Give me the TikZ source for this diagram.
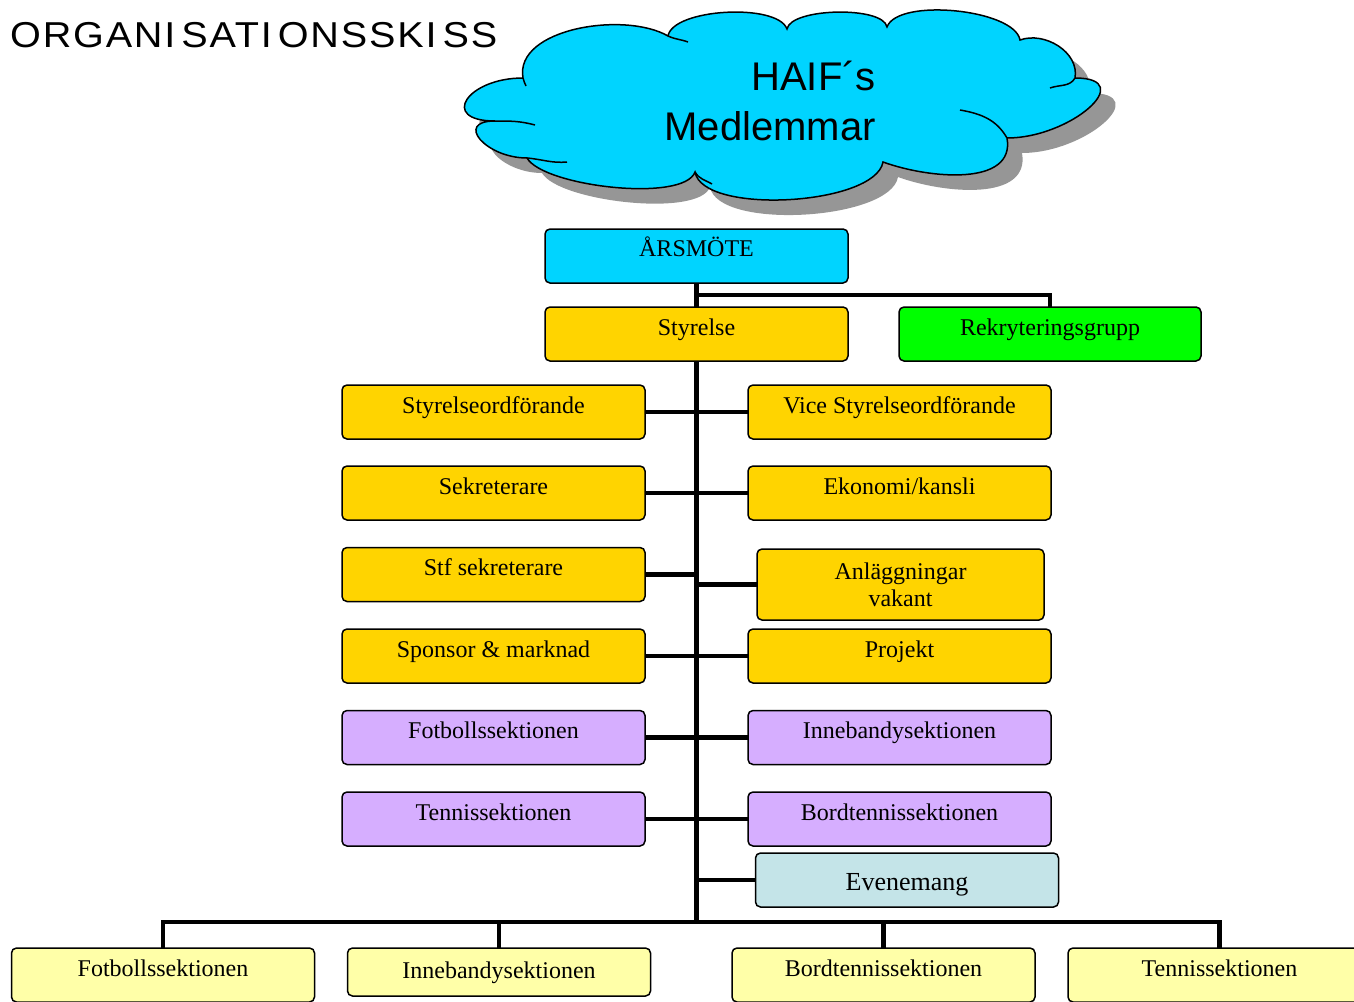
\documentclass[tikz,border=0pt]{standalone}
\usepackage{fontspec}
\setmainfont{Liberation Serif}
\newfontfamily\cloudfont{Liberation Sans}
\newfontfamily\headfont[FakeStretch=1.1,LetterSpace=5]{Liberation Sans}
\usetikzlibrary{positioning}
\usetikzlibrary{backgrounds}
\usetikzlibrary{calc}

\definecolor{skyblue}{RGB}{0,212,255}
\definecolor{gold}{RGB}{255,212,0}
\definecolor{groupgreen}{RGB}{0,255,0}
\definecolor{lilac}{RGB}{214,174,255}
\definecolor{eventblue}{RGB}{196,228,232}
\definecolor{paleyellow}{RGB}{255,255,168}
\definecolor{shadowgray}{RGB}{150,150,150}

\tikzset{
	unit/.style={draw, rounded corners=5pt, line width=1.5pt, minimum width=303pt, minimum height=54pt, inner sep=0pt, outer sep=0pt, text height=13pt, text depth=11pt, font=\fontsize{24}{27}\selectfont},
	styr/.style={unit, fill=gold},
	sektion/.style={unit, fill=lilac},
	lokal/.style={unit, fill=paleyellow},
}

\newcommand{\cloudpath}{(523,-78) to[out=100,in=150,looseness=0.85] (668,-36) to[out=80,in=110,looseness=0.6] (787,-29) to[out=80,in=100,looseness=0.55] (887,-27) to[out=70,in=100,looseness=0.6] (1020,-40) to[out=20,in=80] (1075,-78) to[out=0,in=0,looseness=1.8] (1007,-138) to[out=-80,in=-20] (883,-162) to[out=-100,in=-80,looseness=0.6] (695,-172) to[out=-110,in=-60,looseness=0.5] (527,-158) to[out=180,in=180,looseness=2.15] (495,-121) to[out=180,in=180,looseness=2.8] (523,-78) -- cycle}
\newcommand{\gapI}{I\kern6pt}

\begin{document}
\begin{tikzpicture}[x=1pt, y=1pt]
		\useasboundingbox (0,0) rectangle (1354,-1001);
		\clip (0,0) rectangle (1354,-1001);
		
		\node (title) [anchor=base west, inner sep=0pt] at (10,-47) {\headfont\fontsize{36}{36}\selectfont ORGAN\gapI SAT\gapI ONSSK\gapI SS};
		
		% cloud with shadow
		\fill[shadowgray, xshift=15pt, yshift=-15pt] \cloudpath;
		\filldraw[fill=skyblue, line width=1.5pt] \cloudpath;
		\begin{scope}[line width=1.5pt]
			\draw (495,-121) to[out=0,in=165] (535,-125);
			\draw (527,-158) to[out=-5,in=185] (567,-162);
			\draw (668,-36) to[out=-25,in=160] (688,-42);
			\draw (1075,-78) to[out=-120,in=20] (1050,-88);
			\draw (1007,-138) to[out=120,in=-10] (960,-110);
			\draw (695,-172) to[out=-60,in=150] (712,-184);
			\draw (523,-78) to[out=-80,in=110] (526,-86);
		\end{scope}
		\node (members) [anchor=east, align=right, inner sep=0pt, font=\cloudfont\fontsize{40}{50}\selectfont] at (876,-100.5) {HAIF´s\\Medlemmar};
		
		\node (arsmote) [unit, fill=skyblue, text height=12pt, text depth=12pt] at (696.5,-256) {ÅRSMÖTE};
		\node (styrelse) [styr, below=24pt of arsmote] {Styrelse};
		\node (rekry) [unit, fill=groupgreen, right=51pt of styrelse, minimum width=302pt] {Rekryteringsgrupp};
		
		\node (ordf) [styr, below=24pt of styrelse, xshift=-203pt] {Styrelseordförande};
		\node (vice) [styr, right=103pt of ordf] {Vice Styrelseordförande};
		\node (sekr) [styr, below=27pt of ordf] {Sekreterare};
		\node (ekonomi) [styr, right=103pt of sekr] {Ekonomi/kansli};
		\node (stf) [styr, below=27.5pt of sekr] {Stf sekreterare};
		\node (anl) [styr, align=center, text height=, text depth=, minimum width=287pt, minimum height=71pt] at (900.5,-584.5) {Anläggningar\\vakant};
		\node (sponsor) [styr, below=27.5pt of stf] {Sponsor \& marknad};
		\node (projekt) [styr, right=103pt of sponsor] {Projekt};
		\node (fotboll) [sektion, below=27.5pt of sponsor] {Fotbollssektionen};
		\node (inneband) [sektion, right=103pt of fotboll] {Innebandysektionen};
		\node (tennis) [sektion, below=27.5pt of fotboll] {Tennissektionen};
		\node (bordtennis) [sektion, right=103pt of tennis] {Bordtennissektionen};
		\node (evenemang) [unit, fill=eventblue, below=7pt of bordtennis, xshift=7.5pt, font=\fontsize{26}{26}\selectfont, text height=22pt, text depth=1pt] {Evenemang};
		
		\node (fotbollL) [lokal] at (163,-975) {Fotbollssektionen};
		\node (innebandL) [lokal, minimum height=48pt, text height=18pt, text depth=6pt] at (499,-972) {Innebandysektionen};
		\node (bordtennisL) [lokal] at (883.5,-975) {Bordtennissektionen};
		\node (tennisL) [lokal] at (1219.5,-975) {Tennissektionen};
		
		\coordinate (bus) at (696.5,-922);
		
		\begin{scope}[on background layer]
		\begin{scope}[line width=4.5pt]
			\draw (arsmote.south) -- (bus);
			\draw ($(arsmote.south)!.5!(styrelse.north)$) -| (rekry.north);
			\draw (ordf.east) -- (vice.west);
			\draw (sekr.east) -- (ekonomi.west);
			\draw (stf.east) -- (stf.east -| bus);
			\draw (anl.west) -- (anl.west -| bus);
			\draw (sponsor.east) -- (projekt.west);
			\draw (fotboll.east) -- (inneband.west);
			\draw (tennis.east) -- (bordtennis.west);
			\draw (evenemang.west) -- (evenemang.west -| bus);
			\draw (fotbollL.north) |- (bus) -| (tennisL.north);
			\draw (innebandL.north) -- (innebandL.north |- bus);
			\draw (bordtennisL.north) -- (bordtennisL.north |- bus);
		\end{scope}
		\end{scope}
	\end{tikzpicture}
\end{document}
